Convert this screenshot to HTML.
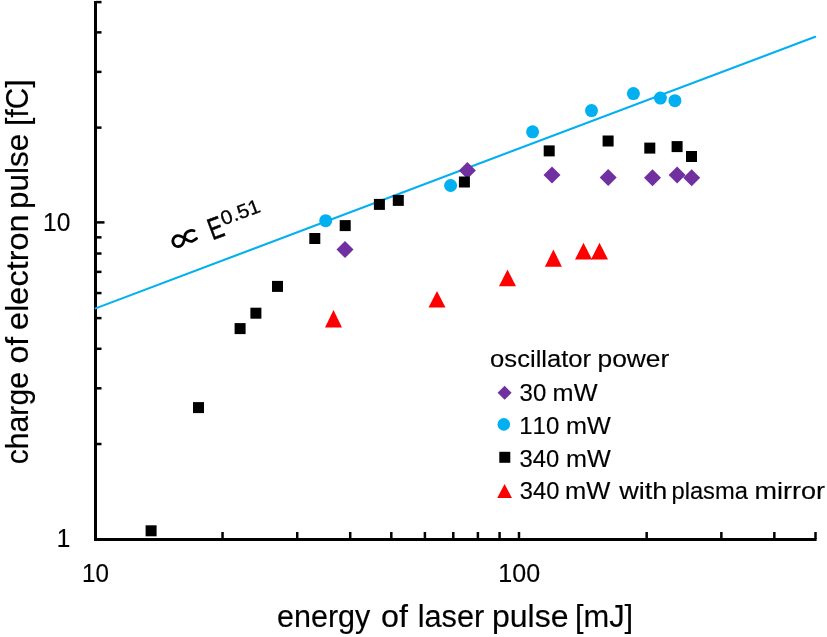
<!DOCTYPE html>
<html><head><meta charset="utf-8"><style>
html,body{margin:0;padding:0;background:#fff;}
svg{display:block;will-change:transform;}
text{font-family:"Liberation Sans", sans-serif;fill:#000;font-kerning:none;stroke:#000;stroke-width:0.15px;}
</style></head><body>
<svg width="827" height="637" viewBox="0 0 827 637">
<rect width="827" height="637" fill="#fff"/>
<path d="M95.5 1V539.4H816.6" fill="none" stroke="#000" stroke-width="3"/><line x1="96" y1="444.03" x2="101.5" y2="444.03" stroke="#000" stroke-width="2.5"/><line x1="96" y1="388.31" x2="101.5" y2="388.31" stroke="#000" stroke-width="2.5"/><line x1="96" y1="348.78" x2="101.5" y2="348.78" stroke="#000" stroke-width="2.5"/><line x1="96" y1="318.11" x2="101.5" y2="318.11" stroke="#000" stroke-width="2.5"/><line x1="96" y1="293.06" x2="101.5" y2="293.06" stroke="#000" stroke-width="2.5"/><line x1="96" y1="271.87" x2="101.5" y2="271.87" stroke="#000" stroke-width="2.5"/><line x1="96" y1="253.52" x2="101.5" y2="253.52" stroke="#000" stroke-width="2.5"/><line x1="96" y1="237.34" x2="101.5" y2="237.34" stroke="#000" stroke-width="2.5"/><line x1="96" y1="127.61" x2="101.5" y2="127.61" stroke="#000" stroke-width="2.5"/><line x1="96" y1="71.89" x2="101.5" y2="71.89" stroke="#000" stroke-width="2.5"/><line x1="96" y1="32.36" x2="101.5" y2="32.36" stroke="#000" stroke-width="2.5"/><line x1="96" y1="2.10" x2="101.5" y2="2.10" stroke="#000" stroke-width="2.5"/><line x1="96" y1="222.40" x2="104.5" y2="222.40" stroke="#000" stroke-width="2.5"/><line x1="222.54" y1="539" x2="222.54" y2="532" stroke="#000" stroke-width="2.5"/><line x1="297.22" y1="539" x2="297.22" y2="532" stroke="#000" stroke-width="2.5"/><line x1="350.21" y1="539" x2="350.21" y2="532" stroke="#000" stroke-width="2.5"/><line x1="391.31" y1="539" x2="391.31" y2="532" stroke="#000" stroke-width="2.5"/><line x1="424.90" y1="539" x2="424.90" y2="532" stroke="#000" stroke-width="2.5"/><line x1="453.29" y1="539" x2="453.29" y2="532" stroke="#000" stroke-width="2.5"/><line x1="477.89" y1="539" x2="477.89" y2="532" stroke="#000" stroke-width="2.5"/><line x1="499.58" y1="539" x2="499.58" y2="532" stroke="#000" stroke-width="2.5"/><line x1="518.99" y1="539" x2="518.99" y2="532" stroke="#000" stroke-width="2.5"/><line x1="646.67" y1="539" x2="646.67" y2="532" stroke="#000" stroke-width="2.5"/><line x1="721.35" y1="539" x2="721.35" y2="532" stroke="#000" stroke-width="2.5"/><line x1="774.34" y1="539" x2="774.34" y2="532" stroke="#000" stroke-width="2.5"/><line x1="815.50" y1="539" x2="815.50" y2="532" stroke="#000" stroke-width="2.5"/>
<line x1="95.6" y1="308.38" x2="815.2" y2="36.81" stroke="#00B0F0" stroke-width="2.1" stroke-linecap="round"/>
<path d="M345.00 241.10L353.50 249.60L345.00 258.10L336.50 249.60Z" fill="#7030A0"/><path d="M467.40 162.00L475.90 170.50L467.40 179.00L458.90 170.50Z" fill="#7030A0"/><path d="M552.00 166.50L560.50 175.00L552.00 183.50L543.50 175.00Z" fill="#7030A0"/><path d="M608.20 169.10L616.70 177.60L608.20 186.10L599.70 177.60Z" fill="#7030A0"/><path d="M652.50 169.20L661.00 177.70L652.50 186.20L644.00 177.70Z" fill="#7030A0"/><path d="M677.10 166.40L685.60 174.90L677.10 183.40L668.60 174.90Z" fill="#7030A0"/><path d="M691.70 169.30L700.20 177.80L691.70 186.30L683.20 177.80Z" fill="#7030A0"/><circle cx="325.7" cy="220.7" r="6.5" fill="#00B0F0"/><circle cx="450.6" cy="185.5" r="6.5" fill="#00B0F0"/><circle cx="532.6" cy="131.8" r="6.5" fill="#00B0F0"/><circle cx="591.5" cy="110.6" r="6.5" fill="#00B0F0"/><circle cx="633.4" cy="93.6" r="6.5" fill="#00B0F0"/><circle cx="660.4" cy="98.1" r="6.5" fill="#00B0F0"/><circle cx="674.9" cy="100.7" r="6.5" fill="#00B0F0"/><rect x="145.60" y="525.30" width="11.0" height="11.0" fill="#000"/><rect x="193.00" y="402.10" width="11.0" height="11.0" fill="#000"/><rect x="234.60" y="323.10" width="11.0" height="11.0" fill="#000"/><rect x="250.40" y="307.70" width="11.0" height="11.0" fill="#000"/><rect x="272.00" y="280.90" width="11.0" height="11.0" fill="#000"/><rect x="309.30" y="233.00" width="11.0" height="11.0" fill="#000"/><rect x="339.70" y="220.10" width="11.0" height="11.0" fill="#000"/><rect x="373.90" y="198.90" width="11.0" height="11.0" fill="#000"/><rect x="392.80" y="194.90" width="11.0" height="11.0" fill="#000"/><rect x="458.90" y="176.50" width="11.0" height="11.0" fill="#000"/><rect x="543.70" y="145.40" width="11.0" height="11.0" fill="#000"/><rect x="602.60" y="135.50" width="11.0" height="11.0" fill="#000"/><rect x="644.30" y="142.60" width="11.0" height="11.0" fill="#000"/><rect x="671.60" y="141.10" width="11.0" height="11.0" fill="#000"/><rect x="686.00" y="151.00" width="11.0" height="11.0" fill="#000"/><path d="M333.50 310.00L342.00 327.60L325.00 327.60Z" fill="#FF0000"/><path d="M437.00 290.90L445.50 307.50L428.50 307.50Z" fill="#FF0000"/><path d="M507.50 269.60L516.00 286.30L499.00 286.30Z" fill="#FF0000"/><path d="M553.40 249.50L561.90 266.70L544.90 266.70Z" fill="#FF0000"/><path d="M583.50 242.70L592.00 259.50L575.00 259.50Z" fill="#FF0000"/><path d="M599.50 242.70L608.00 259.50L591.00 259.50Z" fill="#FF0000"/>
<text x="43.03" y="231" font-size="25" textLength="27.33" lengthAdjust="spacingAndGlyphs">10</text>
<text x="56.64" y="547" font-size="25" textLength="13.54" lengthAdjust="spacingAndGlyphs">1</text>
<text x="81.96" y="582" font-size="25" textLength="26.89" lengthAdjust="spacingAndGlyphs">10</text>
<text x="498.39" y="582.3" font-size="25" textLength="41.79" lengthAdjust="spacingAndGlyphs">100</text>
<text x="277.00" y="626.7" font-size="31" textLength="93.36" lengthAdjust="spacingAndGlyphs">energy</text>
<text x="381.11" y="626.7" font-size="31" textLength="26.89" lengthAdjust="spacingAndGlyphs">of</text>
<text x="417.63" y="626.7" font-size="31" textLength="66.58" lengthAdjust="spacingAndGlyphs">laser</text>
<text x="491.94" y="626.7" font-size="31" textLength="76.59" lengthAdjust="spacingAndGlyphs">pulse</text>
<text x="574.90" y="626.7" font-size="31" textLength="58.30" lengthAdjust="spacingAndGlyphs">[mJ]</text>
<g transform="translate(28.2 637) rotate(-90)">
<text x="172.72" y="0" font-size="31" textLength="92.22" lengthAdjust="spacingAndGlyphs">charge</text>
<text x="273.41" y="0" font-size="31" textLength="26.89" lengthAdjust="spacingAndGlyphs">of</text>
<text x="307.12" y="0" font-size="31" textLength="115.49" lengthAdjust="spacingAndGlyphs">electron</text>
<text x="428.07" y="0" font-size="31" textLength="75.33" lengthAdjust="spacingAndGlyphs">pulse</text>
<text x="511.18" y="0" font-size="31" textLength="46.35" lengthAdjust="spacingAndGlyphs">[fC]</text>
</g>
<text x="490.13" y="366.8" font-size="24.5" textLength="101.00" lengthAdjust="spacingAndGlyphs">oscillator</text>
<text x="597.50" y="366.8" font-size="24.5" textLength="71.73" lengthAdjust="spacingAndGlyphs">power</text>
<text x="519.59" y="401" font-size="24.5" textLength="26.65" lengthAdjust="spacingAndGlyphs">30</text>
<text x="552.62" y="401" font-size="24.5" textLength="44.86" lengthAdjust="spacingAndGlyphs">mW</text>
<text x="519.27" y="433.7" font-size="24.5" textLength="40.07" lengthAdjust="spacingAndGlyphs">110</text>
<text x="566.03" y="433.7" font-size="24.5" textLength="44.76" lengthAdjust="spacingAndGlyphs">mW</text>
<text x="519.59" y="466.6" font-size="24.5" textLength="39.74" lengthAdjust="spacingAndGlyphs">340</text>
<text x="566.03" y="466.6" font-size="24.5" textLength="44.76" lengthAdjust="spacingAndGlyphs">mW</text>
<text x="519.80" y="499.1" font-size="24.5" textLength="39.53" lengthAdjust="spacingAndGlyphs">340</text>
<text x="565.11" y="499.1" font-size="24.5" textLength="45.27" lengthAdjust="spacingAndGlyphs">mW</text>
<text x="619.24" y="499.1" font-size="24.5" textLength="48.12" lengthAdjust="spacingAndGlyphs">with</text>
<text x="671.47" y="499.1" font-size="24.5" textLength="76.33" lengthAdjust="spacingAndGlyphs">plasma</text>
<text x="754.61" y="499.1" font-size="24.5" textLength="70.44" lengthAdjust="spacingAndGlyphs">mirror</text>
<path d="M504.60 385.80L511.60 392.80L504.60 399.80L497.60 392.80Z" fill="#7030A0"/><circle cx="503.8" cy="424.4" r="6.3" fill="#00B0F0"/><rect x="499.30" y="451.80" width="11" height="11" fill="#000"/><path d="M504.60 483.90L512.00 498.00L497.20 498.00Z" fill="#FF0000"/>
<g transform="translate(214.1 239.6) rotate(-20.5)"><text transform="scale(0.72 1)" x="-2.49" y="0" font-size="30.4" style="stroke-width:0.5px">E</text><text x="13.8" y="-9.8" font-size="19.7" textLength="40.6" lengthAdjust="spacingAndGlyphs" style="stroke-width:0.3px">0.51</text></g><g transform="translate(178.3 241) rotate(-20.5)"><path d="M18.4 -4.1C15.5 -6.6 10 -6 8.2 -3C6.5 0 4.5 5.5 0 5.5C-3.2 5.5 -5.5 3 -5.5 0C-5.5 -3 -3 -5.5 0 -5.5C3.5 -5.5 5.5 -2.5 7.5 0.5C9 3 11 5.2 13.5 5C15.5 4.8 17.2 4.4 18.0 4.0" fill="none" stroke="#000" stroke-width="2.85" stroke-linecap="round"/></g>
</svg>
</body></html>
